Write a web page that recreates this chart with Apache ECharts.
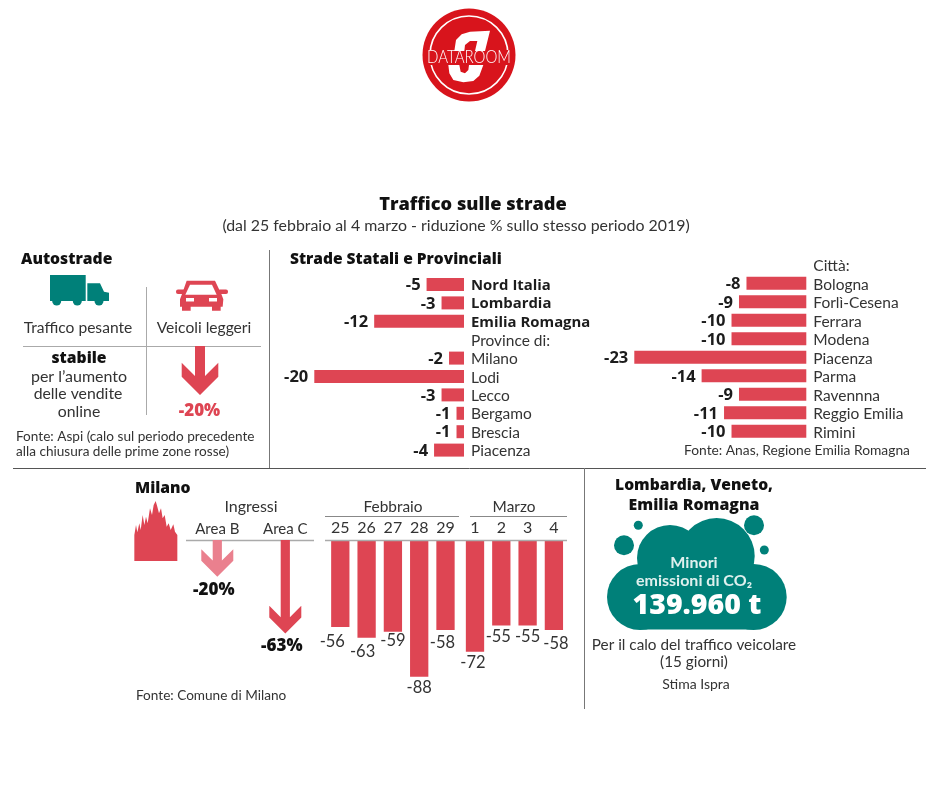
<!DOCTYPE html>
<html><head><meta charset="utf-8">
<script src="https://cdn.jsdelivr.net/npm/echarts@6/dist/echarts.min.js"></script>
<style>html,body{margin:0;padding:0;background:#fff}#c{width:940px;height:788px}</style>
</head><body><div id="c"></div>
<script>
const roadCategories = ['Nord Italia','Lombardia','Emilia Romagna','Province di:','Milano','Lodi','Lecco','Bergamo','Brescia','Piacenza'];
const roadValues = [-5,-3,-12,null,-2,-20,-3,-1,-1,-4];
const cityCategories = ['Città:','Bologna','Forlì-Cesena','Ferrara','Modena','Piacenza','Parma','Ravennna','Reggio Emilia','Rimini'];
const cityValues = [null,-8,-9,-10,-10,-23,-14,-9,-11,-10];
const febDays = ['25','26','27','28','29'];
const febValues = [-56,-63,-59,-88,-58];
const marDays = ['1','2','3','4'];
const marValues = [-72,-55,-55,-58];
const areaCategories = ['Area B','Area C'];
const areaValues = [-20,-63];
const highwayCategories = ['Veicoli leggeri'];
const highwayValues = [-20];

const FONT = 'Lato', HEAVY = '"Open Sans"';
const RED = '#de4553', TEAL = '#008079', INK = '#1c1c1c', BODY = '#333', LOGO = '#d8141c';
const boldRows = new Set(['Nord Italia','Lombardia','Emilia Romagna']);
// nudges that keep the column labels where the designer placed them
const febNudge = [[-8,1],[-4,0],[0,-4],[0,-3],[-3,-1]];
const marNudge = [[-2,-3],[-3,-2],[0,-2],[2,0]];

function txt(text,x,y,size,opt){opt=opt||{};const e={type:'text',silent:true,z:opt.z||20,style:{text:text,x:x,y:y,
  font:(opt.weight||'400')+' '+size+'px '+(opt.family||FONT),fill:opt.fill||BODY,align:opt.align||'center',verticalAlign:'middle'}};
  if(opt.scaleY){e.scaleY=opt.scaleY;e.originX=x;e.originY=y;}
  return e;}
function head(text,x,y,size,opt){return txt(text,x,y+1,size,Object.assign({weight:'800',family:HEAVY,fill:'#111'},opt||{}));}
function rule(x1,y1,x2,y2,color,w){return {type:'line',silent:true,z:5,shape:{x1:x1,y1:y1,x2:x2,y2:y2},style:{stroke:color||'#9a9a9a',lineWidth:w||1}};}
function poly(points,fill,z){return {type:'polygon',silent:true,z:z||10,shape:{points:points},style:{fill:fill}};}
function box(x,y,w,h,fill,r,z){return {type:'rect',silent:true,z:z||10,shape:{x:x,y:y,width:w,height:h,r:r||0},style:{fill:fill}};}
function disc(cx,cy,r,fill,z){return {type:'circle',silent:true,z:z||10,shape:{cx:cx,cy:cy,r:r},style:{fill:fill}};}

function arrowSeries(grid,cats,vals,o){
  return {type:'custom',xAxisIndex:grid,yAxisIndex:grid,clip:false,z:6,
    data:vals.map((v,i)=>[cats[i],v]),
    renderItem:function(params,api){
      const p=api.coord([api.value(0),api.value(1)]);
      const x=p[0],tip=p[1],s=o.shaft,h=o.head,t=o.thick;
      const top=params.coordSys.y-o.rise;
      const col=o.colors[params.dataIndex];
      const join=tip-h-t+(h-s);
      const pts=[[x-s,top],[x+s,top],[x+s,join],[x+h,tip-h-t],[x+h,tip-h],[x,tip],[x-h,tip-h],[x-h,tip-h-t],[x-s,join]];
      const lab='-'+Math.abs(api.value(1))+'%';
      return {type:'group',children:[
        {type:'polygon',shape:{points:pts},style:{fill:col}},
        {type:'text',style:{text:lab,x:x+o.labelDx,y:tip+o.labelDy,align:'center',verticalAlign:'middle',
          font:'800 '+o.labelSize+'px '+HEAVY,fill:o.labelColor}}
      ]};
    }};
}

const hiddenVal = (min)=>({type:'value',min:min,max:0,show:false});

function rowChart(gridIdx,vals){
  return {type:'bar',xAxisIndex:gridIdx,yAxisIndex:gridIdx,data:vals,barWidth:13,itemStyle:{color:RED},silent:true,
    label:{show:true,position:'left',distance:6,offset:[0,1],formatter:p=>String(p.value),fontFamily:HEAVY,fontWeight:700,fontSize:16.5,color:INK}};
}
function rowAxis(cats,pad){
  return {type:'category',data:cats,inverse:true,position:'right',
    axisLine:{show:false},axisTick:{show:false},
    axisLabel:{interval:0,margin:7,align:'left',fontFamily:FONT,fontSize:15.5,color:BODY,padding:[pad,0,0,0],
      formatter:v=>boldRows.has(v)?'{b|'+v+'}':v,
      rich:{b:{fontFamily:HEAVY,fontSize:14.9,fontWeight:700,color:INK}}}};
}
function colAxis(days){
  return {type:'category',data:days,position:'top',
    axisLine:{show:false},axisTick:{show:false},
    axisLabel:{interval:0,margin:4,fontFamily:FONT,fontSize:16,color:BODY}};
}
function colSeries(gridIdx,vals,nudge){
  return {type:'bar',xAxisIndex:gridIdx,yAxisIndex:gridIdx,barWidth:18.3,silent:true,itemStyle:{color:RED},
    data:vals.map((v,i)=>({value:v,label:{offset:nudge[i]}})),
    label:{show:true,position:'bottom',distance:5,formatter:p=>String(p.value),fontFamily:FONT,fontSize:16.5,color:BODY}};
}

const zc=(pts,ox,oy)=>pts.map(p=>[ox+p[0]/3,oy+p[1]/3]);

const graphics=[
  // logo
  disc(469,55,46.5,LOGO),
  {type:'circle',silent:true,z:11,shape:{cx:469,cy:55,r:39},style:{fill:'none',stroke:'#fff',lineWidth:1.6}},
  poly(zc([[103,138],[108,105],[125,88],[150,80],[210,77],[195,138],[165,138],[172,108],[150,108],[135,120],[133,138]],420,5),'#fff',12),
  poly(zc([[85,180],[118,180],[122,200],[135,205],[145,195],[147,180],[190,180],[178,212],[160,228],[130,232],[100,225],[88,205]],420,5),'#fff',12),
  box(425,50,88,15,LOGO,0,11.5),
  txt('DATAROOM',469,57.5,15,{weight:'300',fill:'#fff',z:14,scaleY:1.15}),
  // titles
  head('Traffico sulle strade',473,204,18.2),
  txt('(dal 25 febbraio al 4 marzo - riduzione % sullo stesso periodo 2019)',456,226,15.9),
  // frame rules
  rule(269.5,250,269.5,468,'#777'),
  rule(13,468.5,926,468.5,'#555'),
  rule(584.5,468,584.5,709,'#777'),
  // autostrade
  head('Autostrade',21,259,15.7,{align:'left'}),
  rule(146.5,287,146.5,415,'#aaa'),
  rule(23,346.5,261,346.5,'#aaa'),
  txt('Traffico pesante',78,328,15.6),
  txt('Veicoli leggeri',204,328,15.6),
  head('stabile',79,358,15.7),
  txt('per l’aumento',79,377,16),
  txt('delle vendite',78,394,15.8),
  txt('online',79,412,15.8),
  txt('Fonte: Aspi (calo sul periodo precedente',16,437,13.6,{align:'left'}),
  txt('alla chiusura delle prime zone rosse)',16,452,13.6,{align:'left'}),
  // truck
  box(50,275,35.7,26,TEAL),
  poly(zc([[262,130],[300,130],[312,155],[327,158],[327,183],[262,183]],0,240),TEAL),
  disc(56.7,301,4.5,TEAL),disc(77.3,301,4.5,TEAL),disc(99,301,4.5,TEAL),
  // car
  poly(zc([[560,122],[645,122],[664,162],[670,178],[668,200],[662,200],[662,212],[636,212],[636,200],[572,200],[572,212],[546,212],[546,200],[540,200],[540,178],[546,162]],0,240),RED),
  box(176,289.5,10,4.5,RED,2),box(218,289.5,10,4.5,RED,2),
  poly(zc([[570,134],[636,134],[650,164],[556,164]],0,240),'#fff',11),
  box(186,298,8,3.5,'#fff',0,11),box(209,298,8,3.5,'#fff',0,11),
  // statali
  head('Strade Statali e Provinciali',290,258.5,15.5,{align:'left'}),
  txt('Fonte: Anas, Regione Emilia Romagna',684,451,13.8,{align:'left'}),
  // milano
  head('Milano',135,487.5,15.7,{align:'left'}),
  poly(zc([[43,258],[43,180],[48,150],[52,172],[58,145],[62,165],[68,120],[73,150],[78,125],[83,145],[90,100],[96,120],[101,90],[107,78],[112,95],[117,115],[123,100],[128,130],[134,120],[140,155],[146,145],[152,165],[160,148],[165,170],[172,180],[172,258]],120,475),RED),
  txt('Ingressi',251,507,16),
  rule(186,540.5,314,540.5,'#aaa',1.5),
  txt('Febbraio',393,507,15.4),
  rule(325,516.5,459,516.5,'#888'),
  txt('Marzo',514,507,15.4),
  rule(470,516.5,567,516.5,'#888'),
  rule(325,540.5,567,540.5,'#aaa',1.5),
  txt('Fonte: Comune di Milano',136,696,13.6,{align:'left'}),
  // cloud
  head('Lombardia, Veneto,',694,484.5,15.6),
  head('Emilia Romagna',694,504.5,15.9),
  disc(640,597,33,TEAL),disc(753.7,597,33,TEAL),
  disc(670,558,33,TEAL),disc(716.7,556,38,TEAL),
  box(640,566,114,63.5,TEAL),
  disc(638.3,525.3,4.5,TEAL),disc(624,545.3,10,TEAL),disc(754,525.3,10,TEAL),disc(764.3,550,4.5,TEAL),
  txt('Minori',694,562.5,16,{weight:'700',fill:'#dff0ee'}),
  txt('emissioni di CO₂',694,581,16,{weight:'700',fill:'#dff0ee'}),
  head('139.960 t',697,605,28.5,{fill:'#fff'}),
  txt('Per il calo del traffico veicolare',694,645,15.3),
  txt('(15 giorni)',694,662,15.3),
  txt('Stima Ispra',696,684,14)
];

const chart=echarts.init(document.getElementById('c'),null,{renderer:'canvas'});
chart.setOption({
  animation:false,
  backgroundColor:'#fff',
  textStyle:{fontFamily:FONT},
  grid:[
    {left:314.3,top:275.3,width:149.7,height:184},
    {left:634.3,top:255.6,width:172,height:185},
    {left:327.15,top:540,width:131.5,height:136.7},
    {left:461.85,top:540,width:105.2,height:136.7},
    {left:183.3,top:550.4,width:136,height:83},
    {left:180,top:346,width:40,height:49}
  ],
  xAxis:[
    hiddenVal(-20),
    hiddenVal(-23),
    colAxis(febDays),
    colAxis(marDays),
    {type:'category',data:areaCategories,position:'top',axisLine:{show:false},axisTick:{show:false},
     axisLabel:{interval:0,margin:14,fontFamily:FONT,fontSize:15,color:BODY}},
    {type:'category',data:highwayCategories,show:false}
  ].map((a,i)=>Object.assign(a,{gridIndex:i})),
  yAxis:[
    rowAxis(roadCategories,2),
    rowAxis(cityCategories,3),
    hiddenVal(-88),
    hiddenVal(-88),
    hiddenVal(-63),
    hiddenVal(-20)
  ].map((a,i)=>Object.assign(a,{gridIndex:i})),
  series:[
    rowChart(0,roadValues),
    rowChart(1,cityValues),
    colSeries(2,febValues,febNudge),
    colSeries(3,marValues,marNudge),
    arrowSeries(4,areaCategories,areaValues,{shaft:4.6,head:16,thick:11.6,rise:10.4,colors:['#ea808e',RED],labelDx:-3.5,labelDy:13,labelSize:17,labelColor:'#111'}),
    arrowSeries(5,highwayCategories,highwayValues,{shaft:5,head:18.3,thick:14,rise:0,colors:[RED],labelDx:-0.5,labelDy:16,labelSize:17,labelColor:RED})
  ],
  graphic:{elements:graphics}
});
</script></body></html>
